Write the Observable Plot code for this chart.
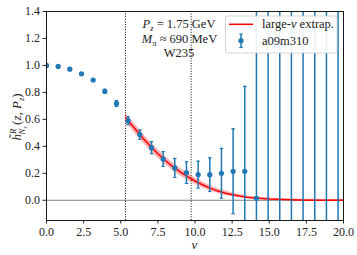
<!DOCTYPE html>
<html>
<head>
<meta charset="utf-8">
<script src="https://cdn.jsdelivr.net/npm/d3@7"></script>
<script src="https://cdn.jsdelivr.net/npm/@observablehq/plot@0.6"></script>
<style>
  html, body { margin: 0; padding: 0; background: white; }
</style>
</head>
<body>
<div id="chart"></div>
<script>
// ---- data ----
const nu = [0.00, 0.785, 1.571, 2.356, 3.142, 3.927, 4.712, 5.498, 6.283, 7.069, 7.854, 8.639, 9.425, 10.21, 10.996, 11.781, 12.566, 13.352, 14.137, 14.923, 15.708, 16.493, 17.279, 18.064, 18.850, 19.635];
const hVal = [1.000, 0.993, 0.972, 0.938, 0.892, 0.808, 0.718, 0.590, 0.487, 0.390, 0.306, 0.240, 0.205, 0.190, 0.190, 0.200, 0.215, 0.215, 0.015, -0.40, 1.60, -0.80, 1.90, -1.10, 2.20, -1.30];
const hErr = [0.000, 0.004, 0.006, 0.008, 0.008, 0.015, 0.022, 0.030, 0.035, 0.045, 0.055, 0.070, 0.080, 0.100, 0.125, 0.185, 0.315, 0.630, 1.600, 2.000, 2.200, 2.500, 2.800, 3.000, 3.200, 3.500];

const fitNu  = [5.32, 5.5, 6.0, 6.5, 7.0, 7.5, 8.0, 8.5, 9.0, 9.5, 10.0, 10.5, 11.0, 11.5, 12.0, 12.5, 13.0, 13.5, 14.0, 15.0, 16.0, 17.0, 18.0, 19.0, 20.0];
const fitVal = [0.612, 0.590, 0.525, 0.460, 0.400, 0.345, 0.295, 0.250, 0.210, 0.175, 0.143, 0.115, 0.090, 0.070, 0.054, 0.041, 0.031, 0.023, 0.017, 0.009, 0.005, 0.0025, 0.001, 0.0005, 0.0002];
const fitErr = [0.034, 0.034, 0.033, 0.033, 0.032, 0.031, 0.030, 0.029, 0.028, 0.026, 0.024, 0.022, 0.020, 0.018, 0.016, 0.014, 0.012, 0.011, 0.010, 0.008, 0.007, 0.006, 0.006, 0.005, 0.005];

const cutLines = [5.32, 9.74];
const xTicks = [0, 2.5, 5, 7.5, 10, 12.5, 15, 17.5, 20];
const yTicks = [0, 0.2, 0.4, 0.6, 0.8, 1.0, 1.2, 1.4];

const annotLines = ["P_z = 1.75 GeV", "M_π ≈ 690 MeV", "W235"];
const legendLabels = ["large-ν extrap.", "a09m310"];

// ---- tables ----
const pts = nu.map((x, i) => ({x, y: hVal[i], lo: hVal[i] - hErr[i], hi: hVal[i] + hErr[i], e: hErr[i]}));
const fit = fitNu.map((x, i) => ({x, y: fitVal[i], lo: fitVal[i] - fitErr[i], hi: fitVal[i] + fitErr[i]}));
const capHalf = 0.115;

const blue = "#1f77b4";
const font = "'Liberation Serif', 'DejaVu Serif', serif";

const chart = Plot.plot({
  width: 357,
  height: 255,
  marginLeft: 46,
  marginRight: 14,
  marginTop: 11,
  marginBottom: 35,
  style: {fontFamily: font, fontSize: "12px", background: "white", color: "#222"},
  x: {domain: [0, 20], ticks: xTicks, tickFormat: d => d.toFixed(1), tickSize: 3.5, tickPadding: 3, label: null},
  y: {domain: [-0.15, 1.4], ticks: yTicks, tickFormat: d => d.toFixed(1), tickSize: 3.5, tickPadding: 3, label: null},
  marks: [
    Plot.ruleY([0], {stroke: "#808080", strokeWidth: 1}),
    Plot.ruleX(cutLines, {stroke: "#000", strokeWidth: 1, strokeDasharray: "1,1.6"}),
    Plot.areaY(fit, {x: "x", y1: "lo", y2: "hi", fill: "#ff0000", fillOpacity: 0.3, clip: true}),
    Plot.line(fit, {x: "x", y: "y", stroke: "#ff0000", strokeWidth: 1.5, clip: true}),
    Plot.ruleX(pts.filter(d => d.e > 0), {x: "x", y1: "lo", y2: "hi", stroke: blue, strokeWidth: 1.5, clip: true}),
    Plot.link(pts.filter(d => d.e > 0), {x1: d => d.x - capHalf, x2: d => d.x + capHalf, y1: "lo", y2: "lo", stroke: blue, strokeWidth: 1.2, clip: true}),
    Plot.link(pts.filter(d => d.e > 0), {x1: d => d.x - capHalf, x2: d => d.x + capHalf, y1: "hi", y2: "hi", stroke: blue, strokeWidth: 1.2, clip: true}),
    Plot.dot(pts, {x: "x", y: "y", r: 2.6, fill: blue, stroke: "none", clip: true}),
    Plot.frame({stroke: "#000", strokeWidth: 0.9})
  ]
});
document.getElementById("chart").appendChild(chart);

const svg = d3.select(chart);

// ---- annotation (three lines) ----
const ann = svg.append("g").attr("font-family", font).attr("font-size", 12.5).attr("fill", "#222").attr("text-anchor", "middle");
function subText(g, x, y, main, sub, rest) {
  const t = g.append("text").attr("x", x).attr("y", y);
  t.append("tspan").attr("font-style", "italic").text(main);
  t.append("tspan").attr("font-style", "italic").attr("font-size", 8.5).attr("dy", 3).text(sub);
  t.append("tspan").attr("dy", -3).text(rest);
  return t;
}
subText(ann, 179, 27.5, "P", "z", " = 1.75 GeV");
subText(ann, 179.5, 43, "M", "π", " ≈ 690 MeV");
ann.append("text").attr("x", 179).attr("y", 57).text(annotLines[2]);

// ---- legend ----
const lg = svg.append("g").attr("font-family", font).attr("font-size", 12.5).attr("fill", "#222").attr("text-anchor", "start");
lg.append("rect").attr("x", 225.5).attr("y", 16).attr("width", 111.5).attr("height", 37).attr("rx", 2)
  .attr("fill", "#ffffff").attr("fill-opacity", 0.9).attr("stroke", "#cccccc").attr("stroke-width", 0.8);
lg.append("line").attr("x1", 229).attr("x2", 253).attr("y1", 24.3).attr("y2", 24.3).attr("stroke", "#ff0000").attr("stroke-width", 1.5);
const t1 = lg.append("text").attr("x", 262).attr("y", 28);
t1.append("tspan").text("large-");
t1.append("tspan").attr("font-style", "italic").text("ν");
t1.append("tspan").text(" extrap.");
lg.append("line").attr("x1", 241).attr("x2", 241).attr("y1", 34).attr("y2", 47.5).attr("stroke", blue).attr("stroke-width", 1.5);
lg.append("line").attr("x1", 239.3).attr("x2", 242.7).attr("y1", 34).attr("y2", 34).attr("stroke", blue).attr("stroke-width", 1.2);
lg.append("line").attr("x1", 239.3).attr("x2", 242.7).attr("y1", 47.5).attr("y2", 47.5).attr("stroke", blue).attr("stroke-width", 1.2);
lg.append("circle").attr("cx", 241).attr("cy", 40.7).attr("r", 2.6).attr("fill", blue);
lg.append("text").attr("x", 262).attr("y", 44.5).text(legendLabels[1]);

// ---- axis labels ----
svg.append("text").attr("x", 194.5).attr("y", 249).attr("text-anchor", "middle")
  .attr("font-family", font).attr("font-size", 13).attr("font-style", "italic").attr("fill", "#222").text("ν");

const yl = svg.append("text").attr("transform", "translate(21,117) rotate(-90)").attr("text-anchor", "middle")
  .attr("font-family", font).attr("font-size", 13).attr("fill", "#222");
yl.append("tspan").attr("font-style", "italic").text("h\u0303");
yl.append("tspan").attr("font-style", "italic").attr("font-size", 8.5).attr("dy", -5).text("R");
yl.append("tspan").attr("font-style", "italic").attr("font-size", 8.5).attr("dx", -5.5).attr("dy", 8.5).text("N");
yl.append("tspan").attr("font-style", "italic").attr("font-size", 6).attr("dy", 2).text("s");
yl.append("tspan").attr("dx", 1.5).attr("dy", -5.5).text("(");
yl.append("tspan").attr("font-style", "italic").text("z");
yl.append("tspan").text(", ");
yl.append("tspan").attr("font-style", "italic").text("P");
yl.append("tspan").attr("font-style", "italic").attr("font-size", 8.5).attr("dy", 3).text("z");
yl.append("tspan").attr("dy", -3).text(")");
</script>
</body>
</html>
